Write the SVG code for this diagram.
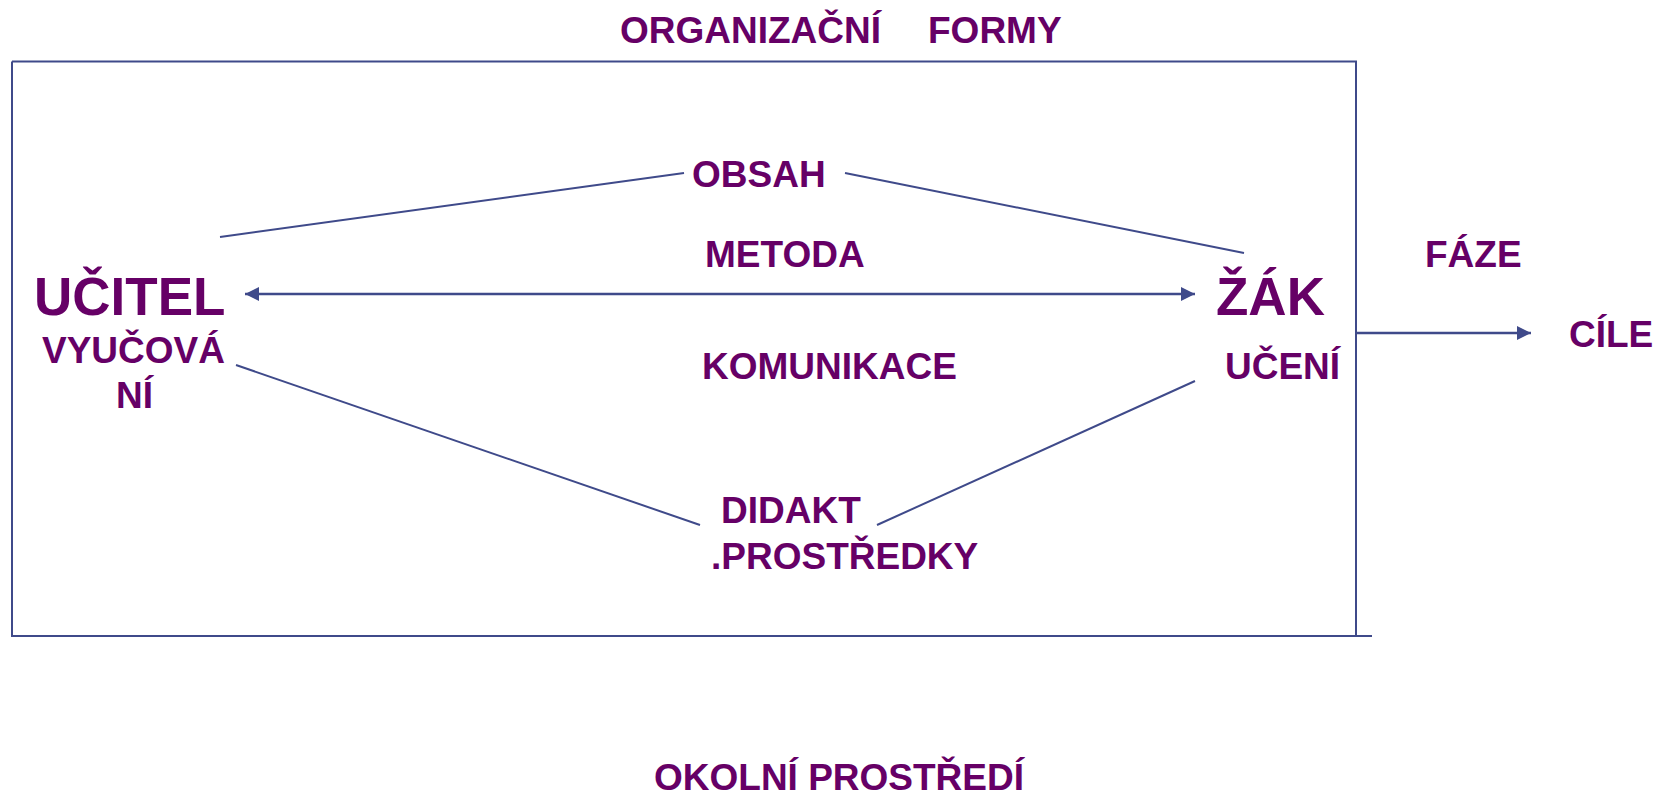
<svg xmlns="http://www.w3.org/2000/svg" width="1668" height="798" viewBox="0 0 1668 798">
<style>
.t{font-family:"Liberation Sans",Arial,sans-serif;font-weight:bold;fill:#660066;}
.m{font-size:37px;}
.b{font-size:53px;}
.ln{stroke:#3f4a8a;stroke-width:2;fill:none;}
.ar{stroke:#3f4a8a;stroke-width:2.5;fill:none;}
</style>
<defs>
<marker id="ah" viewBox="0 0 14 14" refX="14" refY="7" markerWidth="14" markerHeight="14" markerUnits="userSpaceOnUse" orient="auto-start-reverse">
<path d="M0,0 L14,7 L0,14 Z" fill="#3f4a8a"/>
</marker>
</defs>
<rect width="1668" height="798" fill="#ffffff"/>
<g id="frame">
<path class="ln" d="M12,61.5 H1356 V636 M12,61.5 V636 H1372"/>
</g>
<g id="connectors">
<line class="ln" x1="220" y1="237" x2="684" y2="173"/>
<line class="ln" x1="845" y1="173" x2="1244" y2="253"/>
<line class="ar" x1="245" y1="294" x2="1195" y2="294" marker-start="url(#ah)" marker-end="url(#ah)"/>
<line class="ln" x1="236" y1="365" x2="700" y2="525"/>
<line class="ln" x1="877" y1="525" x2="1195" y2="381"/>
<line class="ar" x1="1357" y1="333" x2="1531" y2="333" marker-end="url(#ah)"/>
</g>
<g id="title"><text class="t m" x="620" y="43">ORGANIZAČNÍ</text><text class="t m" x="928" y="43">FORMY</text></g>
<g id="obsah"><text class="t m" x="692" y="187">OBSAH</text></g>
<g id="metoda"><text class="t m" x="705" y="267">METODA</text></g>
<g id="ucitel"><text class="t b" x="34" y="315">UČITEL</text><text class="t m" x="42" y="363">VYUČOVÁ</text><text class="t m" x="116" y="408">NÍ</text></g>
<g id="zak"><text class="t b" x="1216" y="315">ŽÁK</text><text class="t m" x="1225" y="379">UČENÍ</text></g>
<g id="komunikace"><text class="t m" x="702" y="379">KOMUNIKACE</text></g>
<g id="didakt"><text class="t m" x="721" y="523">DIDAKT</text><text class="t m" x="711" y="569">.PROSTŘEDKY</text></g>
<g id="faze"><text class="t m" x="1425" y="267">FÁZE</text></g>
<g id="cile"><text class="t m" x="1569" y="347">CÍLE</text></g>
<g id="okoli"><text class="t m" x="654" y="790">OKOLNÍ PROSTŘEDÍ</text></g>
</svg>
